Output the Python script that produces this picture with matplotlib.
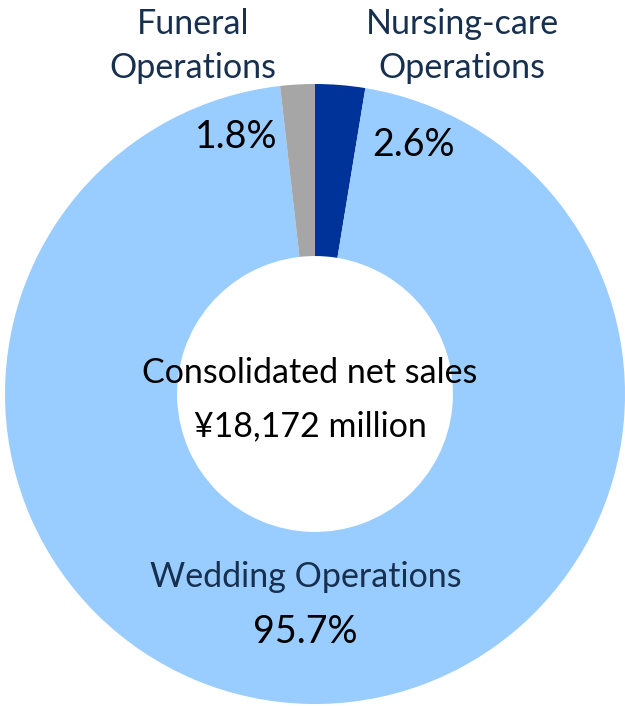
import matplotlib
matplotlib.use("Agg")
import matplotlib.pyplot as plt

# segment data, clockwise from 12 o'clock
segments = ["Nursing-care\nOperations", "Wedding Operations", "Funeral\nOperations"]
shares = [2.6, 95.7, 1.8]
share_labels = ["2.6%", "95.7%", "1.8%"]
colors = ["#003399", "#99CCFF", "#A6A6A6"]
center_title = "Consolidated net sales"
center_value = "\u00a518,172 million"

W, H = 625, 706
label_color = "#17304F"
plt.rcParams["font.family"] = ["Lato", "DejaVu Sans"]

fig = plt.figure(figsize=(W / 100, H / 100), dpi=100)
ax = fig.add_axes([0, 0, 1, 1])
ax.set_xlim(0, W)
ax.set_ylim(0, H)
ax.set_aspect("equal")
ax.axis("off")

cx, cy, r = 315, H - 394, 310
ax.pie(shares, colors=colors, startangle=90, counterclock=False,
       radius=r, center=(cx, cy),
       wedgeprops=dict(width=r * 0.555, linewidth=0))
ax.set_xlim(0, W)
ax.set_ylim(0, H)

# category names
ax.text(462, H - 46, segments[0], ha="center", va="center", fontsize=24.5,
        color=label_color, linespacing=1.45)
ax.text(306, H - 577, segments[1], ha="center", va="center", fontsize=24.5,
        color=label_color)
ax.text(193, H - 46, segments[2], ha="center", va="center", fontsize=24.5,
        color=label_color, linespacing=1.45)

# percentages
ax.text(413, H - 145, share_labels[0], ha="center", va="center", fontsize=27)
ax.text(305, H - 632, share_labels[1], ha="center", va="center", fontsize=27)
ax.text(236, H - 137, share_labels[2], ha="center", va="center", fontsize=27)

# centre text
ax.text(310, H - 373, center_title, ha="center", va="center", fontsize=24.5)
ax.text(310, H - 426, center_value, ha="center", va="center", fontsize=24.5)

fig.savefig("out.png", dpi=100)
